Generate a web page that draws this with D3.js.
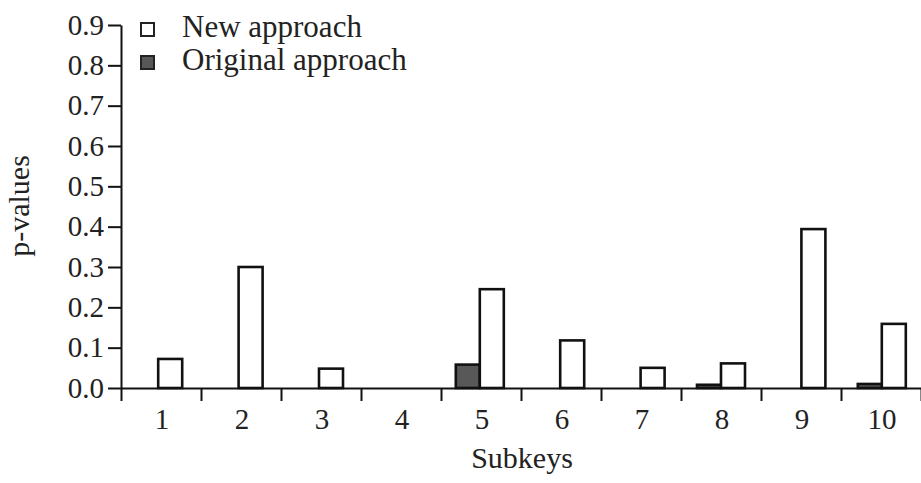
<!DOCTYPE html>
<html>
<head>
<meta charset="utf-8">
<script src="https://cdn.jsdelivr.net/npm/d3@7"></script>
<style>
  html, body { margin: 0; padding: 0; background: #fff; }
  svg { display: block; }
  text { font-family: "Liberation Serif", "Times New Roman", serif; fill: #222; }
</style>
</head>
<body>
<svg id="chart" width="921" height="483"></svg>
<script>
const categories = ["1", "2", "3", "4", "5", "6", "7", "8", "9", "10"];
const newApproach = [0.072, 0.30, 0.048, 0, 0.245, 0.118, 0.05, 0.061, 0.394, 0.159];
const originalApproach = [0, 0, 0, 0, 0.058, 0, 0, 0.008, 0, 0.01];
const yTicks = [0, 0.1, 0.2, 0.3, 0.4, 0.5, 0.6, 0.7, 0.8, 0.9];
const seriesNames = ["New approach", "Original approach"];

const svg = d3.select("#chart");

const y = d3.scaleLinear().domain([0, 0.9]).range([388, 25]);
// band scale for category boundaries / labels
const xAxisBand = d3.scaleBand().domain(categories).range([121, 921]).padding(0);
// band scale for bar placement
const xBars = d3.scaleBand().domain(categories).range([118, 922]).padding(0);
const barW = 24;

const tickPos = d3.scaleLinear().domain([0, categories.length]).range([121, 921]);

// bars
const g = svg.append("g");
const rows = categories.map((c, i) => ({ c, n: newApproach[i], o: originalApproach[i] }));

g.selectAll("rect.orig")
  .data(rows.filter(d => d.o > 0))
  .join("rect")
  .attr("class", "orig")
  .attr("x", d => xBars(d.c) + xBars.bandwidth() / 2 - barW)
  .attr("y", d => y(d.o))
  .attr("width", barW)
  .attr("height", d => y(0) - y(d.o))
  .attr("fill", "#585858")
  .attr("stroke", "#111")
  .attr("stroke-width", 2.6);

g.selectAll("rect.new")
  .data(rows.filter(d => d.n > 0))
  .join("rect")
  .attr("class", "new")
  .attr("x", d => xBars(d.c) + xBars.bandwidth() / 2)
  .attr("y", d => y(d.n))
  .attr("width", barW)
  .attr("height", d => y(0) - y(d.n))
  .attr("fill", "#fff")
  .attr("stroke", "#111")
  .attr("stroke-width", 2.6);

// x axis
const xAxis = svg.append("g")
  .attr("transform", `translate(0,${y(0)})`)
  .call(d3.axisBottom(tickPos)
    .tickValues(d3.range(categories.length + 1))
    .tickFormat("")
    .tickSize(13)
    .tickSizeOuter(0));
xAxis.select(".domain").attr("stroke", "#111").attr("stroke-width", 2);
xAxis.selectAll(".tick line").attr("stroke", "#111").attr("stroke-width", 2);

svg.append("g").selectAll("text")
  .data(categories)
  .join("text")
  .attr("x", d => xAxisBand(d) + xAxisBand.bandwidth() / 2 + 1)
  .attr("y", 429)
  .attr("text-anchor", "middle")
  .style("font-size", "29px")
  .text(d => d);

// y axis
const yAxis = svg.append("g")
  .attr("transform", "translate(121,0)")
  .call(d3.axisLeft(y)
    .tickValues(yTicks)
    .tickFormat(d3.format(".1f"))
    .tickSize(13)
    .tickSizeOuter(0)
    .tickPadding(4));
yAxis.select(".domain").attr("stroke", "#111").attr("stroke-width", 2);
yAxis.selectAll(".tick line").attr("stroke", "#111").attr("stroke-width", 2);
yAxis.selectAll(".tick text")
  .style("font-size", "29px")
  .style("font-family", '"Liberation Serif", serif')
  .attr("fill", "#222");

// axis titles
svg.append("text")
  .attr("x", 522).attr("y", 468)
  .attr("text-anchor", "middle")
  .style("font-size", "30px")
  .text("Subkeys");

svg.append("text")
  .attr("transform", "translate(29,206) rotate(-90)")
  .attr("text-anchor", "middle")
  .style("font-size", "30px")
  .text("p-values");

// legend
const legend = svg.append("g");
const legendFills = ["#fff", "#585858"];
const legendY = [23, 56];
seriesNames.forEach((name, i) => {
  legend.append("rect")
    .attr("x", 141).attr("y", legendY[i])
    .attr("width", 13).attr("height", 13)
    .attr("fill", legendFills[i])
    .attr("stroke", "#222")
    .attr("stroke-width", 2);
  legend.append("text")
    .attr("x", 182).attr("y", legendY[i] + 14)
    .style("font-size", "31px")
    .text(name);
});
</script>
</body>
</html>
